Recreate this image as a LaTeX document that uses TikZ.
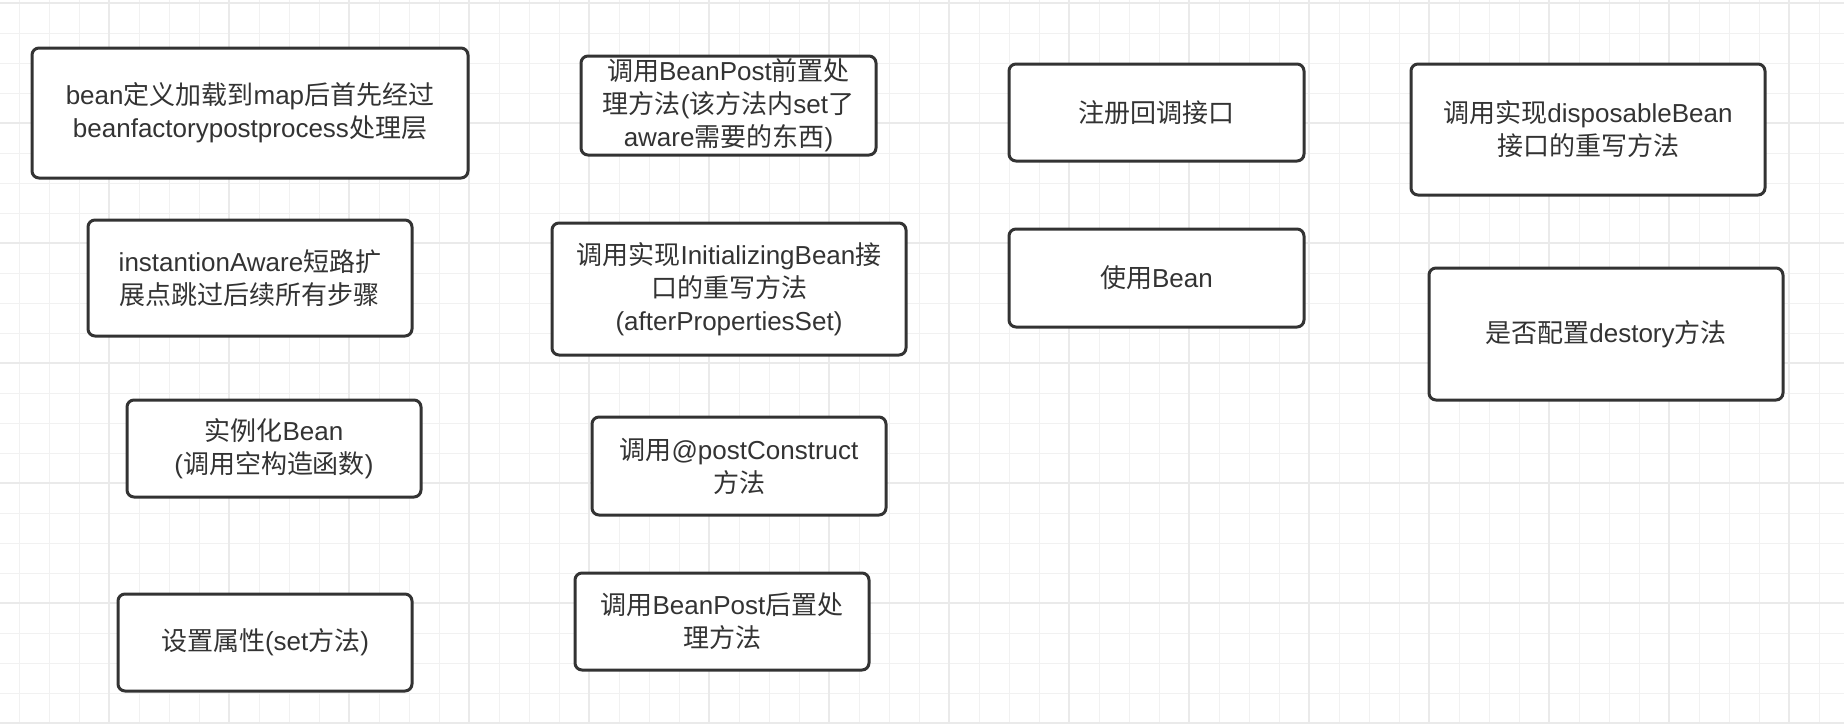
\documentclass[tikz,border=0pt]{standalone}
\usepackage{fontspec}
\setmainfont{Liberation Sans}
\newfontfamily\cjkfont{Noto Sans CJK SC}
% switch to the CJK face for Han characters
\XeTeXinterchartokenstate=1
\newXeTeXintercharclass\hanclass
\count255="4E00
\loop\XeTeXcharclass\count255=\hanclass\advance\count255 by 1 \ifnum\count255<"A000 \repeat
\XeTeXinterchartoks 0 \hanclass={\cjkfont}
\XeTeXinterchartoks 4095 \hanclass={\cjkfont}
\XeTeXinterchartoks \hanclass 0={\normalfont}
\XeTeXinterchartoks \hanclass 4095={\normalfont}
\definecolor{boxline}{HTML}{333333}
\definecolor{gridminor}{HTML}{F1F1F1}
\definecolor{gridmajor}{HTML}{EAEAEA}
\begin{document}
\begin{tikzpicture}[
  x=0.5pt, y=-0.5pt,
  procbox/.style={draw=boxline, line width=1.5pt, rounded corners=3.5pt, fill=white,
                  inner sep=0pt, align=center, text=boxline,
                  font=\fontsize{13}{16.5}\selectfont},
  minorline/.style={draw=gridminor, line width=0.5pt},
  majorline/.style={draw=gridmajor, line width=0.9pt}
]
  \useasboundingbox[fill=white] (0,0) rectangle (1844,724);
  % background grid
  \foreach \gx in {19,49,...,1843} \draw[minorline] (\gx,0) -- (\gx,724);
  \foreach \gy in {33,63,...,723} \draw[minorline] (0,\gy) -- (1844,\gy);
  \foreach \gx in {109,229,...,1843} \draw[majorline] (\gx,0) -- (\gx,724);
  \foreach \gy in {3,123,...,724} \draw[majorline] (0,\gy) -- (1844,\gy);

  % first column
  \node[procbox, minimum width=218pt, minimum height=65pt] (load) at (250,113)
    {bean定义加载到map后首先经过\\beanfactorypostprocess处理层};
  \node[procbox, minimum width=162pt, minimum height=58pt] (aware) at (250,278)
    {instantionAware短路扩\\展点跳过后续所有步骤};
  \node[procbox, minimum width=147pt, minimum height=48.5pt] (inst) at (274,448.5)
    {实例化Bean\\(调用空构造函数)};
  \node[procbox, minimum width=147pt, minimum height=48.5pt] (props) at (265,642.5)
    {设置属性(set方法)};

  % second column
  \node[procbox, minimum width=147.5pt, minimum height=49.5pt] (before) at (728.5,105.5)
    {调用BeanPost前置处\\理方法(该方法内set了\\aware需要的东西)};
  \node[procbox, minimum width=177pt, minimum height=66pt] (initbean) at (729,289)
    {调用实现InitializingBean接\\口的重写方法\\(afterPropertiesSet)};
  \node[procbox, minimum width=147pt, minimum height=49pt] (postcons) at (739,466)
    {调用@postConstruct\\方法};
  \node[procbox, minimum width=147pt, minimum height=48.5pt] (after) at (722,621.5)
    {调用BeanPost后置处\\理方法};

  % third column
  \node[procbox, minimum width=147.5pt, minimum height=48.5pt] (callback) at (1156.5,112.5)
    {注册回调接口};
  \node[procbox, minimum width=147.5pt, minimum height=49pt] (use) at (1156.5,278)
    {使用Bean};

  % fourth column
  \node[procbox, minimum width=177pt, minimum height=65.5pt] (dispose) at (1588,129.5)
    {调用实现disposableBean\\接口的重写方法};
  \node[procbox, minimum width=177pt, minimum height=66pt] (destroy) at (1606,334)
    {是否配置destory方法};
\end{tikzpicture}
\end{document}
